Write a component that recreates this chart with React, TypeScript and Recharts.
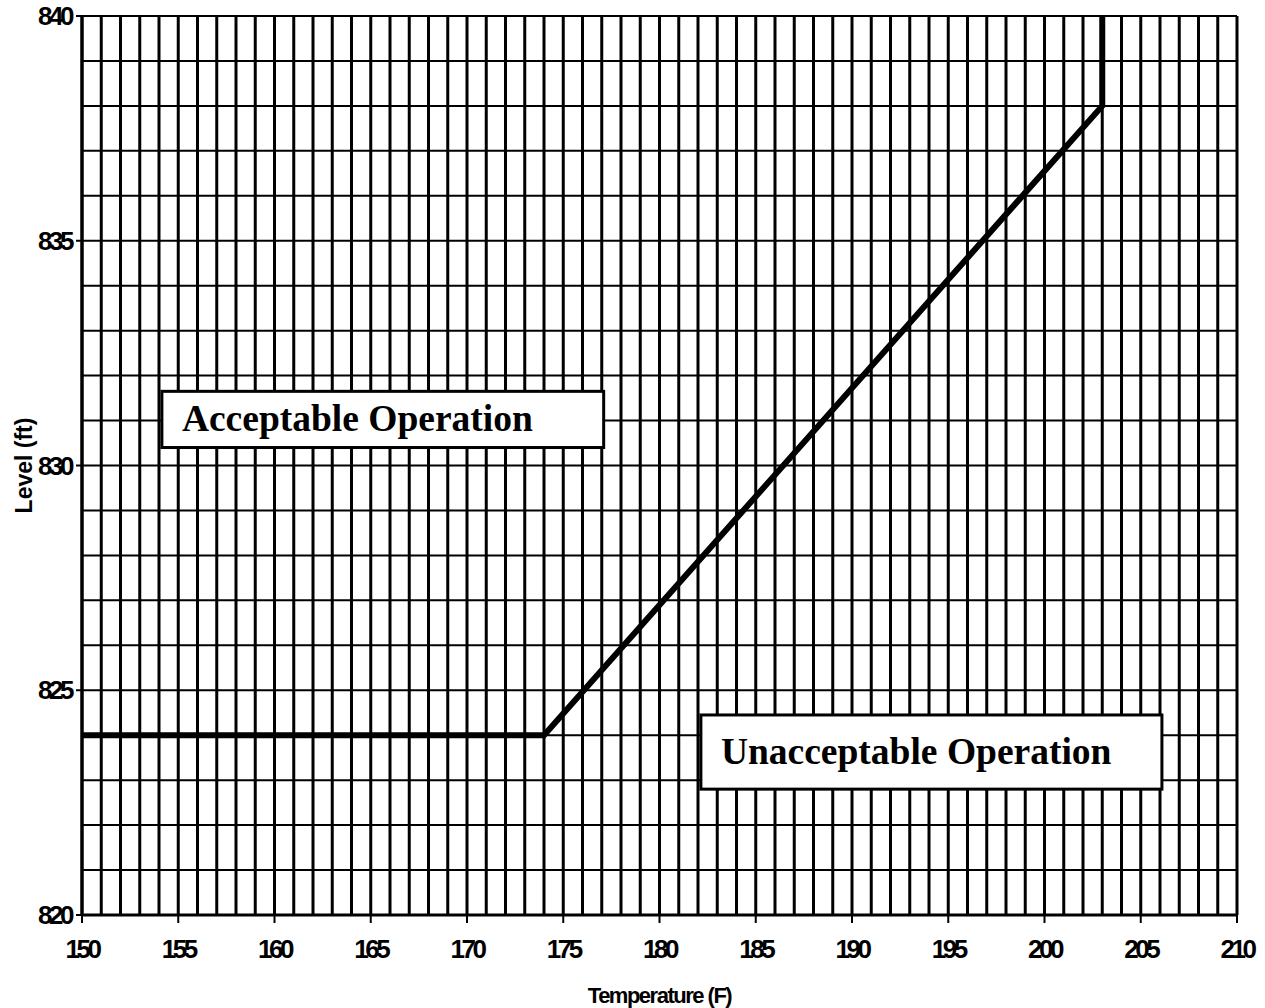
import {
  LineChart,
  Line,
  CartesianGrid,
  XAxis,
  YAxis,
  ReferenceArea,
} from "recharts";

// limit curve: level vs temperature
const temps = [150, 174, 203, 203];
const levels = [824, 824, 838, 840];

const xTicks = [150, 155, 160, 165, 170, 175, 180, 185, 190, 195, 200, 205, 210];
const yTicks = [820, 825, 830, 835, 840];

// fine grid: every 1 F and every 1 ft
const gridTemps = [
  150, 151, 152, 153, 154, 155, 156, 157, 158, 159, 160, 161, 162, 163, 164, 165, 166, 167, 168, 169,
  170, 171, 172, 173, 174, 175, 176, 177, 178, 179, 180, 181, 182, 183, 184, 185, 186, 187, 188, 189,
  190, 191, 192, 193, 194, 195, 196, 197, 198, 199, 200, 201, 202, 203, 204, 205, 206, 207, 208, 209, 210,
];
const gridLevels = [
  820, 821, 822, 823, 824, 825, 826, 827, 828, 829, 830, 831, 832, 833, 834, 835, 836, 837, 838, 839, 840,
];

// region labels (boxes in data units)
const regionLabels = ["Acceptable Operation", "Unacceptable Operation"];
const regionX = [
  [154.15, 177.1],
  [182.15, 206.1],
];
const regionY = [
  [830.4, 831.65],
  [822.8, 824.45],
];

const data = temps.map((t, i) => ({ temp: t, level: levels[i] }));

const TICK_FONT = {
  fontFamily: "'Liberation Sans', Arial, sans-serif",
  fontWeight: 700,
  fontSize: 26,
  letterSpacing: -3.5,
  fill: "#000",
};

const NO_ANIM = { isAnimationActive: false } as const;

function RegionBox(props: any) {
  const { x, y, width, height, text } = props;
  return (
    <g>
      <rect x={x} y={y} width={width} height={height} fill="#fff" stroke="#000" strokeWidth={3} />
      <text
        x={x + 20}
        y={y + height / 2 + 12}
        fontFamily="'Liberation Serif', 'Times New Roman', serif"
        fontWeight={700}
        fontSize={37.5}
        fill="#000"
      >
        {text}
      </text>
    </g>
  );
}

export default function App() {
  return (
    <div style={{ position: "absolute", left: 0, top: 0, background: "#fff" }}>
      <LineChart
        width={1265}
        height={1008}
        data={data}
        margin={{ top: 16, right: 28, left: 12, bottom: 0 }}
      >
        <CartesianGrid
          horizontal={false}
          verticalValues={gridTemps}
          stroke="#000"
          strokeWidth={3}
        />
        <CartesianGrid
          vertical={false}
          horizontalValues={gridLevels}
          stroke="#000"
          strokeWidth={2}
        />
        <XAxis
          dataKey="temp"
          type="number"
          domain={[150, 210]}
          ticks={xTicks}
          interval={0}
          height={93}
          tickSize={8}
          tickMargin={17}
          tick={TICK_FONT}
          axisLine={{ stroke: "#000", strokeWidth: 3 }}
          tickLine={{ stroke: "#000", strokeWidth: 2 }}
          label={{
            content: ({ viewBox }: any) => (
              <text
                x={viewBox.x + viewBox.width / 2}
                y={viewBox.y + 80}
                textAnchor="middle"
                dominantBaseline="central"
                fontFamily="'Liberation Sans', Arial, sans-serif"
                fontWeight={700}
                fontSize={22}
                letterSpacing={-1.5}
                fill="#000"
              >
                Temperature (F)
              </text>
            ),
          }}
        />
        <YAxis
          type="number"
          domain={[820, 840]}
          ticks={yTicks}
          interval={0}
          width={70}
          tickSize={6}
          tickMargin={5}
          tick={TICK_FONT}
          axisLine={{ stroke: "#000", strokeWidth: 3 }}
          tickLine={{ stroke: "#000", strokeWidth: 2 }}
          label={{
            content: ({ viewBox }: any) => {
              const cx = viewBox.x + 12;
              const cy = viewBox.y + viewBox.height / 2;
              return (
                <text
                  x={cx}
                  y={cy}
                  transform={`rotate(-90 ${cx} ${cy})`}
                  textAnchor="middle"
                  dominantBaseline="central"
                  fontFamily="'Liberation Sans', Arial, sans-serif"
                  fontWeight={700}
                  fontSize={23}
                  fill="#000"
                >
                  Level (ft)
                </text>
              );
            },
          }}
        />
        <Line
          {...NO_ANIM}
          type="linear"
          dataKey="level"
          stroke="#000"
          strokeWidth={6}
          dot={false}
          activeDot={false}
        />
        {regionLabels.map((txt, i) => (
          <ReferenceArea
            key={txt}
            x1={regionX[i][0]}
            x2={regionX[i][1]}
            y1={regionY[i][0]}
            y2={regionY[i][1]}
            shape={(p: any) => <RegionBox {...p} text={txt} />}
          />
        ))}
      </LineChart>
    </div>
  );
}
